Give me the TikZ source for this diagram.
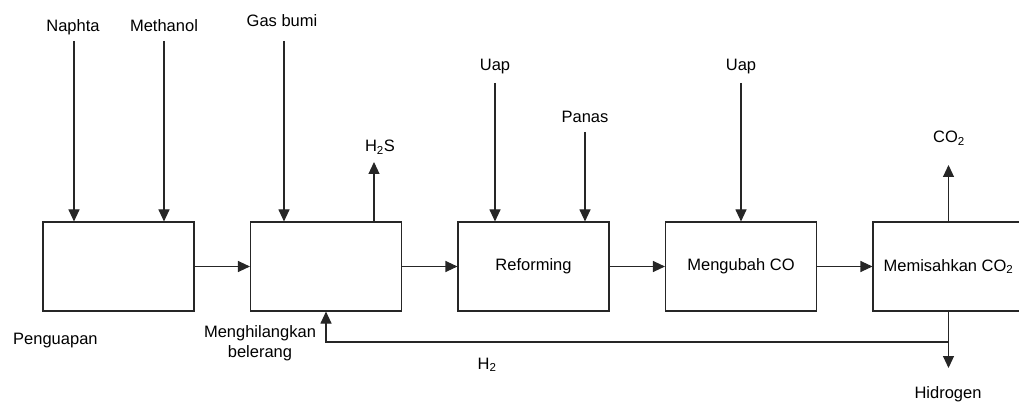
\documentclass[tikz,border=0pt]{standalone}
\usepackage{fontspec}
\setmainfont{Liberation Sans}
\usepackage{xcolor}
\usetikzlibrary{arrows.meta,positioning}
\definecolor{ink}{HTML}{262626}
\tikzset{
    unitbox/.style={draw=ink,line width=1.1pt,
      minimum width=151pt,minimum height=89pt,inner sep=2pt,align=center},
    streamlabel/.style={inner sep=0pt,text=black,align=center},
    flowarrow/.style={-{Triangle[length=12pt,width=11pt]},draw=ink,
      line width=1.1pt}
}
\begin{document}
\begin{tikzpicture}[x=1pt,y=-1pt,font=\fontsize{16.5}{20}\selectfont]
  \useasboundingbox (0,0) rectangle (1019,403);
  % process units, left to right
  \foreach \x/\name/\text in {0/penguapan/{},1/belerang/{},2/reforming/Reforming,
      3/shift/Mengubah CO,4/pisah/{Memisahkan CO\textsubscript{2}}} {
    \node[unitbox] (\name) at (118.5+207.5*\x,266.5) {\text};
  }
  \foreach \a/\b in {penguapan/belerang,belerang/reforming,reforming/shift,shift/pisah}
    \draw[flowarrow] (\a.east) -- (\b.west);

  % feeds from above
  \coordinate (naphtaIn) at (74,41);
  \coordinate (methanolIn) at (164,41);
  \coordinate (gasIn) at (284,41);
  \coordinate (uapIn) at (495,83);
  \coordinate (panasIn) at (585,132);
  \coordinate (uapShiftIn) at (741,83);
  \node[streamlabel,anchor=base] (naphta) at (73,32) {Naphta};
  \node[streamlabel,anchor=base] (methanol) at (164,32) {Methanol};
  \node[streamlabel,anchor=base] (gasbumi) at (282,27) {Gas bumi};
  \node[streamlabel,anchor=base] (uap) at (495,71) {Uap};
  \node[streamlabel,anchor=base] (panas) at (585,123) {Panas};
  \node[streamlabel,anchor=base] (uapShift) at (741,71) {Uap};
  \draw[flowarrow] (naphtaIn) -- (naphtaIn |- penguapan.north);
  \draw[flowarrow] (methanolIn) -- (methanolIn |- penguapan.north);
  \draw[flowarrow] (gasIn) -- (gasIn |- belerang.north);
  \draw[flowarrow] (uapIn) -- (uapIn |- reforming.north);
  \draw[flowarrow] (panasIn) -- (panasIn |- reforming.north);
  \draw[flowarrow] (uapShiftIn) -- (uapShiftIn |- shift.north);

  % products
  \coordinate (h2sOut) at (374,162);
  \coordinate (co2Out) at (948.5,165);
  \coordinate (split) at (948.5,342);
  \coordinate (hidrogenOut) at (948.5,368);
  \draw[flowarrow] (h2sOut |- belerang.north) -- (h2sOut);
  \draw[flowarrow] (pisah.north) -- (co2Out);
  \draw[flowarrow] (pisah.south) -- (hidrogenOut);
  \draw[flowarrow] (split) -| (belerang.south);
  \node[streamlabel,anchor=base] (h2s) at (380,152) {H\textsubscript{2}S};
  \node[streamlabel,anchor=base] (co2) at (949,143) {CO\textsubscript{2}};
  \node[streamlabel,anchor=base] (hidrogen) at (948,398) {Hidrogen};
  \node[streamlabel,anchor=base] (h2) at (487,369) {H\textsubscript{2}};

  % unit names below the boxes
  \node[streamlabel,anchor=base west] (penguapanLabel) at (13,344) {Penguapan};
  \node[streamlabel,anchor=base] (belerangLabel) at (260,357) {Menghilangkan\\belerang};
\end{tikzpicture}
\end{document}
